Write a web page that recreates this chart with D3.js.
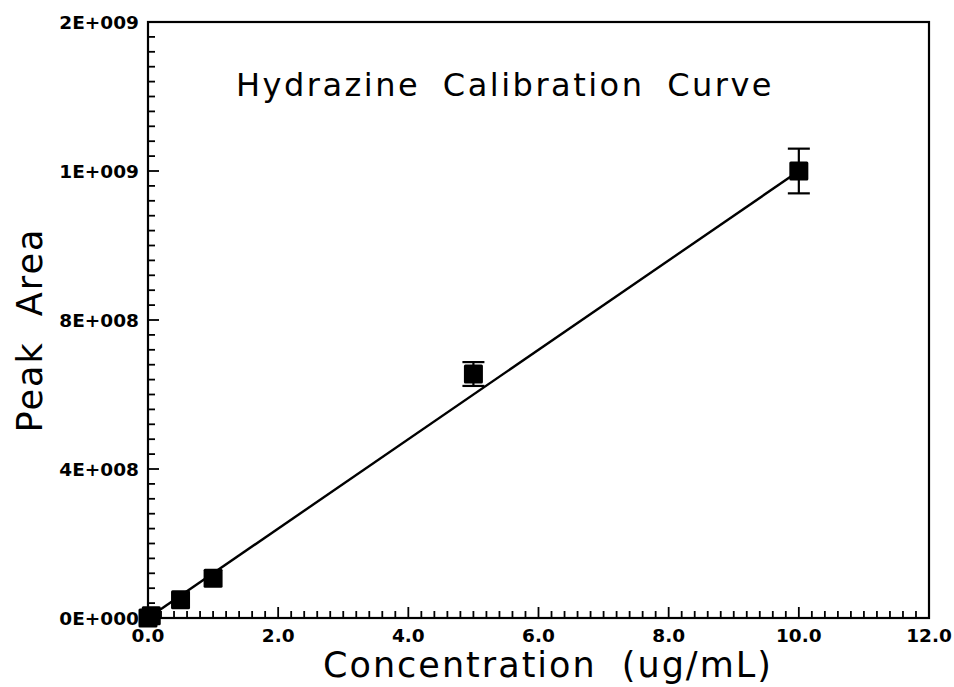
<!DOCTYPE html>
<html>
<head>
<meta charset="utf-8">
<script src="https://cdn.jsdelivr.net/npm/d3@7"></script>
<style>
  body { margin: 0; background: #fff; }
  svg { display: block; }
  .tick-label { font-family: "DejaVu Sans", sans-serif; font-weight: bold; font-size: 18.5px; fill: #000; }
  .big-label { font-family: "DejaVu Sans", sans-serif; fill: #000; }
</style>
</head>
<body>
<div id="chart"></div>
<script>
// data
var concentration = [0.0, 0.05, 0.5, 1.0, 5.0, 10.0];
var peakArea = [0, 6e6, 4.9e7, 1.07e8, 6.55e8, 1.2e9];
var peakError = [0, 0, 0, 0, 3.2e7, 6.0e7];

// fitted line end points
var fitX = [0, 10];
var fitY = [0, 1.2e9];

var xTickValues = [0, 2, 4, 6, 8, 10, 12];
var xTickLabels = ["0.0", "2.0", "4.0", "6.0", "8.0", "10.0", "12.0"];
var yTickValues = [0, 4e8, 8e8, 1.2e9, 1.6e9];
var yTickLabels = ["0E+000", "4E+008", "8E+008", "1E+009", "2E+009"];

function drawChart() {
  var width = 954, height = 687;
  var plot = { left: 148, right: 929, top: 22, bottom: 618 };

  var svg = d3.select("#chart").append("svg")
    .attr("width", width)
    .attr("height", height);

  var x = d3.scaleLinear().domain([0, 12]).range([plot.left, plot.right]);
  var y = d3.scaleLinear().domain([0, 1.6e9]).range([plot.bottom, plot.top]);

  // minor ticks every 0.2 on x, every 4e7 on y (pointing inward)
  var xMinor = d3.range(0, 60.5, 1).map(function (i) { return i * 0.2; });
  var yMinor = d3.range(0, 40.5, 1).map(function (i) { return i * 4e7; });

  svg.append("g")
    .selectAll("line")
    .data(xMinor)
    .enter().append("line")
    .attr("x1", function (d) { return x(d); })
    .attr("x2", function (d) { return x(d); })
    .attr("y1", plot.bottom)
    .attr("y2", function (d, i) { return plot.bottom - (i % 10 == 0 ? 11 : 7); })
    .attr("stroke", "#000")
    .attr("stroke-width", 1.8);

  svg.append("g")
    .selectAll("line")
    .data(yMinor)
    .enter().append("line")
    .attr("y1", function (d) { return y(d); })
    .attr("y2", function (d) { return y(d); })
    .attr("x1", plot.left)
    .attr("x2", function (d, i) { return plot.left + (i % 10 == 0 ? 11 : 7); })
    .attr("stroke", "#000")
    .attr("stroke-width", 1.8);

  // frame
  svg.append("rect")
    .attr("x", plot.left)
    .attr("y", plot.top)
    .attr("width", plot.right - plot.left)
    .attr("height", plot.bottom - plot.top)
    .attr("fill", "none")
    .attr("stroke", "#000")
    .attr("stroke-width", 2.2);

  // tick labels
  svg.append("g")
    .selectAll("text")
    .data(xTickValues)
    .enter().append("text")
    .attr("class", "tick-label")
    .attr("x", function (d) { return x(d); })
    .attr("y", plot.bottom + 24)
    .attr("text-anchor", "middle")
    .text(function (d, i) { return xTickLabels[i]; });

  svg.append("g")
    .selectAll("text")
    .data(yTickValues)
    .enter().append("text")
    .attr("class", "tick-label")
    .attr("x", plot.left - 9)
    .attr("y", function (d) { return y(d) + 7; })
    .attr("text-anchor", "end")
    .text(function (d, i) { return yTickLabels[i]; });

  // fit line
  svg.append("path")
    .attr("fill", "none")
    .attr("stroke", "#000")
    .attr("stroke-width", 2.4)
    .attr("d", d3.line()
      .x(function (d) { return x(d[0]); })
      .y(function (d) { return y(d[1]); })(d3.zip(fitX, fitY)));

  var pts = d3.zip(concentration, peakArea, peakError);

  // error bars
  var eb = svg.append("g").selectAll("g")
    .data(pts.filter(function (d) { return d[2] > 0; }))
    .enter().append("g")
    .attr("stroke", "#000")
    .attr("stroke-width", 2.2);
  eb.append("line")
    .attr("x1", function (d) { return x(d[0]); })
    .attr("x2", function (d) { return x(d[0]); })
    .attr("y1", function (d) { return y(d[1] + d[2]); })
    .attr("y2", function (d) { return y(d[1] - d[2]); });
  eb.append("line")
    .attr("x1", function (d) { return x(d[0]) - 11; })
    .attr("x2", function (d) { return x(d[0]) + 11; })
    .attr("y1", function (d) { return y(d[1] + d[2]); })
    .attr("y2", function (d) { return y(d[1] + d[2]); });
  eb.append("line")
    .attr("x1", function (d) { return x(d[0]) - 11; })
    .attr("x2", function (d) { return x(d[0]) + 11; })
    .attr("y1", function (d) { return y(d[1] - d[2]); })
    .attr("y2", function (d) { return y(d[1] - d[2]); });

  // square markers
  var s = 19;
  svg.append("g")
    .selectAll("rect")
    .data(pts)
    .enter().append("rect")
    .attr("x", function (d) { return x(d[0]) - s / 2; })
    .attr("y", function (d) { return y(d[1]) - s / 2; })
    .attr("width", s)
    .attr("height", s)
    .attr("rx", 1.5)
    .attr("fill", "#000");

  // title and axis titles
  svg.append("text")
    .attr("class", "big-label")
    .attr("x", 505)
    .attr("y", 96)
    .attr("text-anchor", "middle")
    .style("font-size", "32px")
    .style("letter-spacing", "2.5px")
    .style("word-spacing", "10px")
    .text("Hydrazine Calibration Curve");

  svg.append("text")
    .attr("class", "big-label")
    .attr("x", 548)
    .attr("y", 677)
    .attr("text-anchor", "middle")
    .style("font-size", "35px")
    .style("letter-spacing", "2px")
    .style("word-spacing", "12px")
    .text("Concentration (ug/mL)");

  svg.append("text")
    .attr("class", "big-label")
    .attr("transform", "translate(42,330) rotate(-90)")
    .attr("text-anchor", "middle")
    .style("font-size", "35px")
    .style("letter-spacing", "2px")
    .style("word-spacing", "12px")
    .text("Peak Area");
}

drawChart();
</script>
</body>
</html>
